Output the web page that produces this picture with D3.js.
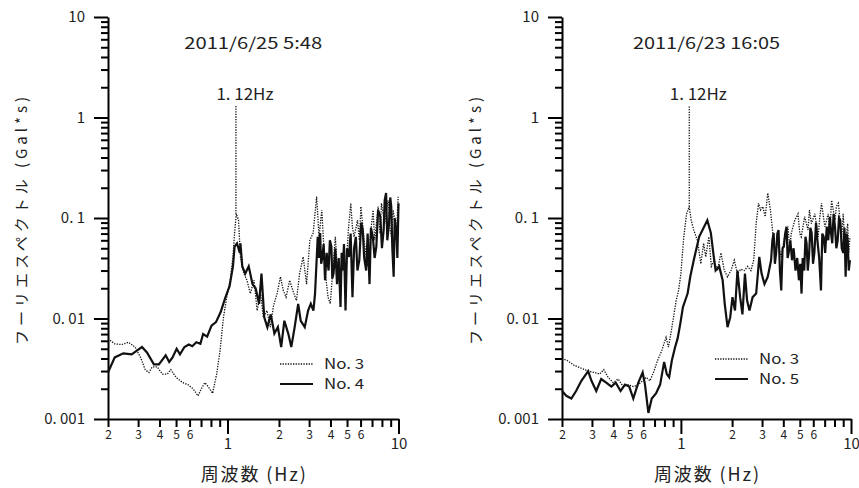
<!DOCTYPE html>
<html>
<head>
<meta charset="utf-8">
<script src="https://cdn.jsdelivr.net/npm/d3@7"></script>
<style>
  body { margin: 0; background: #fff; }
  svg { display: block; }
  text { font-family: 'Noto Sans CJK JP', sans-serif; fill: #222; }
</style>
</head>
<body>
<div class="chart"></div>
<script>
// panel titles / labels
const titles = ['2011/6/25 5:48', '2011/6/23 16:05'];
const peakLabel = '1. 12Hz';
const peakFreq = 1.12;
const peakTop = 1.3;
const legendA = ['No. 3', 'No. 4'];
const legendB = ['No. 3', 'No. 5'];
const yTitle = 'フーリエスペクトル (Gal*s)';
const xTitle = '周波数 (Hz)';

// ticks
const yMajor = [0.001, 0.01, 0.1, 1, 10];
const yMajorLabels = ['0. 001', '0. 01', '0. 1', '1', '10'];
const xMajor = [1, 10];
const xMinorLabeled = [0.2, 0.3, 0.4, 0.5, 0.6, 2, 3, 4, 5, 6];

// left panel, No.3 (dotted)  [Hz, Gal*s]
const no3A = [[0.2,0.0063],[0.219,0.0056],[0.24,0.0055],[0.264,0.0058],[0.288,0.0052],[0.31,0.0041],[0.33,0.0031],
  [0.347,0.0029],[0.363,0.0033],[0.388,0.0033],[0.416,0.0028],[0.445,0.0028],[0.466,0.0031],[0.5,0.0026],[0.547,0.0023],
  [0.586,0.0022],[0.628,0.002],[0.672,0.0017],[0.703,0.002],[0.737,0.0023],[0.771,0.0021],[0.818,0.0018],[0.864,0.0028],
  [0.905,0.0048],[0.947,0.0103],[0.99,0.0163],[1.037,0.024],[1.076,0.041],[1.1,0.071],[1.126,0.11],[1.16,0.095],
  [1.19,0.041],[1.245,0.028],[1.3,0.024],[1.36,0.0177],[1.43,0.024],[1.49,0.012],[1.56,0.0177],[1.62,0.0103],[1.7,0.012],
  [1.78,0.0082],[1.86,0.0135],[1.95,0.0177],[2.04,0.026],[2.12,0.019],[2.2,0.0163],[2.31,0.024],[2.41,0.019],[2.53,0.0151],
  [2.64,0.028],[2.77,0.041],[2.9,0.022],[3.03,0.06],[3.17,0.071],[3.32,0.163],[3.43,0.065],[3.56,0.12],[3.72,0.03],
  [3.87,0.0163],[3.99,0.014],[4.13,0.03],[4.27,0.065],[4.35,0.04],[4.43,0.03],[4.58,0.021],[4.73,0.045],[4.9,0.024],
  [5.09,0.076],[5.26,0.14],[5.38,0.08],[5.5,0.065],[5.76,0.095],[5.9,0.06],[6.03,0.13],[6.32,0.056],[6.62,0.033],
  [6.93,0.082],[7.1,0.12],[7.26,0.06],[7.6,0.13],[7.8,0.07],[7.95,0.14],[8.3,0.088],[8.5,0.12],[8.7,0.15],[8.9,0.08],
  [9.1,0.065],[9.3,0.12],[9.5,0.095],[9.7,0.06],[9.95,0.163]];

// left panel, No.4 (solid)
const no4A = [[0.2,0.0029],[0.219,0.0041],[0.246,0.0045],[0.275,0.0044],[0.295,0.0048],[0.316,0.0052],[0.338,0.0046],
  [0.371,0.0035],[0.397,0.0035],[0.435,0.0043],[0.456,0.0037],[0.477,0.0041],[0.504,0.005],[0.527,0.0044],[0.56,0.0052],
  [0.594,0.0055],[0.622,0.0053],[0.657,0.0058],[0.694,0.0056],[0.72,0.007],[0.76,0.0066],[0.806,0.0085],[0.856,0.0092],
  [0.912,0.0116],[0.969,0.016],[1.028,0.021],[1.076,0.033],[1.1,0.052],[1.136,0.056],[1.18,0.045],[1.19,0.056],
  [1.22,0.033],[1.27,0.028],[1.33,0.033],[1.4,0.022],[1.46,0.02],[1.53,0.014],[1.58,0.028],[1.64,0.0103],[1.71,0.0082],
  [1.79,0.011],[1.88,0.0071],[1.97,0.0082],[2.06,0.0052],[2.15,0.0095],[2.27,0.007],[2.36,0.0052],[2.47,0.0082],
  [2.59,0.014],[2.68,0.0095],[2.83,0.0082],[2.96,0.012],[3.07,0.014],[3.18,0.012],[3.25,0.0177],[3.37,0.065],
  [3.42,0.04],[3.48,0.071],[3.53,0.035],[3.59,0.041],[3.65,0.055],[3.72,0.024],[3.8,0.045],[3.9,0.03],[3.97,0.06],
  [4.05,0.052],[4.1,0.025],[4.17,0.028],[4.27,0.05],[4.37,0.022],[4.47,0.04],[4.58,0.013],[4.65,0.045],[4.72,0.03],
  [4.8,0.055],[4.9,0.012],[5.0,0.05],[5.13,0.041],[5.25,0.07],[5.38,0.0163],[5.5,0.05],[5.63,0.065],[5.75,0.03],
  [5.9,0.038],[6.05,0.09],[6.18,0.076],[6.3,0.04],[6.47,0.03],[6.6,0.07],[6.77,0.022],[6.9,0.08],[7.08,0.065],
  [7.25,0.04],[7.42,0.052],[7.6,0.12],[7.83,0.103],[8.0,0.05],[8.19,0.076],[8.3,0.15],[8.46,0.177],[8.6,0.06],
  [8.8,0.088],[8.95,0.16],[9.07,0.13],[9.2,0.05],[9.37,0.026],[9.5,0.1],[9.7,0.076],[9.85,0.04],[10,0.14]];

// right panel, No.3 (dotted)
const no3B = [[0.2,0.004],[0.216,0.0038],[0.237,0.0034],[0.26,0.0032],[0.285,0.003],[0.311,0.0029],[0.333,0.0028],
  [0.352,0.0031],[0.373,0.0026],[0.4,0.0023],[0.428,0.0025],[0.458,0.0021],[0.49,0.0022],[0.525,0.0021],[0.562,0.0022],
  [0.596,0.0024],[0.624,0.0026],[0.658,0.0024],[0.695,0.003],[0.728,0.0038],[0.772,0.0048],[0.818,0.0065],[0.845,0.0052],
  [0.872,0.007],[0.905,0.0103],[0.938,0.0151],[0.969,0.019],[1.0,0.028],[1.04,0.065],[1.08,0.11],[1.12,0.13],[1.15,0.095],
  [1.19,0.076],[1.25,0.06],[1.31,0.035],[1.36,0.056],[1.4,0.041],[1.46,0.065],[1.51,0.033],[1.57,0.038],[1.64,0.03],
  [1.72,0.045],[1.8,0.03],[1.88,0.026],[1.97,0.03],[2.06,0.038],[2.15,0.028],[2.25,0.031],[2.36,0.03],[2.47,0.033],
  [2.58,0.03],[2.68,0.038],[2.77,0.088],[2.86,0.14],[2.94,0.12],[3.03,0.13],[3.13,0.103],[3.24,0.177],[3.36,0.12],
  [3.47,0.071],[3.58,0.045],[3.71,0.056],[3.89,0.041],[4.07,0.065],[4.26,0.082],[4.36,0.05],[4.46,0.071],[4.67,0.095],
  [4.88,0.11],[5.0,0.07],[5.1,0.065],[5.34,0.103],[5.59,0.076],[5.7,0.12],[5.85,0.088],[6.13,0.11],[6.41,0.065],
  [6.55,0.1],[6.71,0.14],[7.02,0.082],[7.35,0.11],[7.5,0.07],[7.69,0.15],[8.05,0.095],[8.2,0.13],[8.43,0.14],
  [8.82,0.065],[9.0,0.11],[9.23,0.052],[9.56,0.088],[9.7,0.045],[9.86,0.065]];

// right panel, No.5 (solid)
const no5B = [[0.2,0.0019],[0.212,0.0017],[0.227,0.0016],[0.242,0.0019],[0.26,0.0024],[0.285,0.003],[0.298,0.0024],
  [0.318,0.0019],[0.34,0.0025],[0.364,0.0023],[0.39,0.0021],[0.414,0.0023],[0.442,0.0019],[0.469,0.0022],[0.497,0.0021],
  [0.525,0.0016],[0.562,0.0023],[0.596,0.0029],[0.615,0.0022],[0.644,0.00115],[0.674,0.0016],[0.714,0.0018],[0.755,0.0022],
  [0.797,0.0037],[0.826,0.0028],[0.853,0.0026],[0.884,0.0038],[0.925,0.0052],[0.956,0.0063],[0.991,0.0088],[1.028,0.013],
  [1.06,0.0151],[1.095,0.0177],[1.135,0.026],[1.19,0.038],[1.28,0.065],[1.34,0.076],[1.43,0.095],[1.5,0.071],[1.55,0.045],
  [1.6,0.03],[1.68,0.033],[1.76,0.024],[1.81,0.014],[1.88,0.0082],[1.95,0.0103],[2.01,0.0163],[2.08,0.012],[2.15,0.03],
  [2.23,0.0163],[2.3,0.011],[2.38,0.028],[2.45,0.0151],[2.53,0.012],[2.64,0.0163],[2.77,0.0177],[2.89,0.041],[2.98,0.028],
  [3.1,0.022],[3.24,0.026],[3.39,0.038],[3.45,0.06],[3.51,0.071],[3.57,0.035],[3.63,0.045],[3.69,0.07],[3.75,0.076],
  [3.82,0.03],[3.89,0.019],[3.96,0.05],[4.03,0.052],[4.1,0.07],[4.18,0.082],[4.24,0.04],[4.3,0.045],[4.4,0.06],
  [4.5,0.038],[4.6,0.05],[4.72,0.03],[4.83,0.04],[4.94,0.024],[5.03,0.035],[5.12,0.0177],[5.2,0.04],[5.31,0.03],
  [5.4,0.065],[5.48,0.056],[5.57,0.03],[5.66,0.041],[5.77,0.08],[5.87,0.071],[5.98,0.035],[6.09,0.045],[6.23,0.09],
  [6.37,0.056],[6.5,0.04],[6.66,0.019],[6.78,0.07],[6.91,0.065],[7.05,0.045],[7.2,0.082],[7.35,0.06],[7.52,0.103],
  [7.64,0.07],[7.76,0.056],[7.9,0.11],[8.05,0.082],[8.2,0.05],[8.35,0.06],[8.5,0.1],[8.65,0.095],[8.82,0.05],[9.0,0.045],
  [9.15,0.08],[9.3,0.026],[9.43,0.07],[9.56,0.06],[9.7,0.03],[9.86,0.038]];

const W = 859, H = 488;
const latin = "'Liberation Sans', Arial, sans-serif";
const svg = d3.select('.chart').append('svg').attr('width', W).attr('height', H);

function drawPanel(p) {
  const x = d3.scaleLog().domain([0.2, 10]).range([p.x0, p.x1]);
  const y = d3.scaleLog().domain([0.001, 10]).range([419, 17]);
  const g = svg.append('g');

  // minor y ticks
  const yMinor = [];
  yMajor.slice(0, -1).forEach(d => { for (let k = 2; k <= 9; k++) yMinor.push(d * k); });
  g.append('g').attr('transform', `translate(${p.x0},0)`)
    .call(d3.axisLeft(y).tickValues(yMinor).tickSize(7).tickSizeOuter(0).tickFormat(''))
    .call(a => a.select('.domain').remove())
    .call(a => a.selectAll('line').attr('stroke-width', 2));
  g.append('g').attr('transform', `translate(${p.x0},0)`)
    .call(d3.axisLeft(y).tickValues(yMajor).tickSize(14).tickSizeOuter(0).tickPadding(9)
      .tickFormat((d, i) => yMajorLabels[i]))
    .call(a => a.select('.domain').attr('stroke-width', 2))
    .call(a => a.selectAll('line').attr('stroke-width', 2))
    .call(a => a.selectAll('text').attr('font-size', 15).attr('fill', '#333')
      .attr('font-family', "'Noto Sans CJK JP', sans-serif"));

  // x ticks
  const xMinor = [];
  [0.1, 1].forEach(d => { for (let k = 2; k <= 9; k++) xMinor.push(d * k); });
  g.append('g').attr('transform', 'translate(0,419)')
    .call(d3.axisBottom(x).tickValues(xMinor).tickSize(8).tickSizeOuter(0).tickPadding(3)
      .tickFormat(d => xMinorLabeled.some(v => Math.abs(v - d) < 1e-9) ? String(Math.round(d < 1 ? d * 10 : d)) : ''))
    .call(a => a.select('.domain').attr('stroke-width', 2))
    .call(a => a.selectAll('line').attr('stroke-width', 2))
    .call(a => a.selectAll('text').attr('font-size', 12).attr('fill', '#777')
      .attr('font-family', "'Noto Sans CJK JP', sans-serif"));
  g.append('g').attr('transform', 'translate(0,419)')
    .call(d3.axisBottom(x).tickValues(xMajor).tickSize(15).tickSizeOuter(0).tickPadding(4)
      .tickFormat(d3.format('d')))
    .call(a => a.select('.domain').remove())
    .call(a => a.selectAll('line').attr('stroke-width', 2))
    .call(a => a.selectAll('text').attr('font-size', 15).attr('fill', '#333')
      .attr('font-family', "'Noto Sans CJK JP', sans-serif"));

  // curves
  const line = d3.line().x(d => x(d[0])).y(d => y(d[1]));
  g.append('path').datum(p.dotted).attr('d', line).attr('fill', 'none')
    .attr('stroke', '#111').attr('stroke-width', 1.3).attr('stroke-dasharray', '1.3,1.3');
  g.append('path').datum(p.solid).attr('d', line).attr('fill', 'none')
    .attr('stroke', '#111').attr('stroke-width', 2.2);

  // peak marker
  const peakBase = d3.max(p.dotted.filter(d => Math.abs(d[0] - peakFreq) < 0.03), d => d[1]);
  g.append('line').attr('x1', x(peakFreq)).attr('x2', x(peakFreq))
    .attr('y1', y(peakBase)).attr('y2', y(peakTop))
    .attr('stroke', '#111').attr('stroke-width', 1.3).attr('stroke-dasharray', '1.3,1.3');
  g.append('text').attr('x', x(peakFreq) + 9).attr('y', 100).attr('text-anchor', 'middle')
    .attr('font-family', latin).attr('font-size', 16)
    .attr('textLength', 57).attr('lengthAdjust', 'spacingAndGlyphs').text(peakLabel);

  // title
  const cx = (p.x0 + p.x1) / 2;
  g.append('text').attr('x', cx).attr('y', 49).attr('text-anchor', 'middle')
    .attr('font-family', latin).attr('font-size', 16)
    .attr('textLength', p.titleLen).attr('lengthAdjust', 'spacingAndGlyphs').text(p.title);

  // axis titles
  g.append('text').attr('transform', `translate(${p.x0 - 86},221) rotate(-90)`)
    .attr('text-anchor', 'middle').attr('dy', '0.35em').attr('font-size', 15)
    .attr('textLength', 248).attr('lengthAdjust', 'spacing').text(yTitle);
  g.append('text').attr('x', cx).attr('y', 481).attr('text-anchor', 'middle')
    .attr('font-size', 18).attr('textLength', 105).attr('lengthAdjust', 'spacing').text(xTitle);

  // legend
  const lg = g.append('g').attr('transform', `translate(${p.lx},${p.ly})`);
  lg.append('line').attr('x1', 0).attr('x2', 33).attr('y1', 0).attr('y2', 0)
    .attr('stroke', '#111').attr('stroke-width', 1.3).attr('stroke-dasharray', '1.3,1.3');
  lg.append('line').attr('x1', 0).attr('x2', 33).attr('y1', p.lgap).attr('y2', p.lgap)
    .attr('stroke', '#111').attr('stroke-width', 2.2);
  lg.selectAll('text.lab').data(p.legend).join('text').attr('class', 'lab')
    .attr('x', 44).attr('y', (d, i) => i * p.lgap).attr('dy', '0.36em')
    .attr('font-family', latin).attr('font-size', 14)
    .attr('textLength', 40).attr('lengthAdjust', 'spacingAndGlyphs').text(d => d);
}

drawPanel({ x0: 108, x1: 398.5, title: titles[0], titleLen: 138, dotted: no3A, solid: no4A, legend: legendA, lx: 280, ly: 364, lgap: 20 });
drawPanel({ x0: 562, x1: 851, title: titles[1], titleLen: 147, dotted: no3B, solid: no5B, legend: legendB, lx: 715, ly: 359, lgap: 20 });
</script>
</body>
</html>
